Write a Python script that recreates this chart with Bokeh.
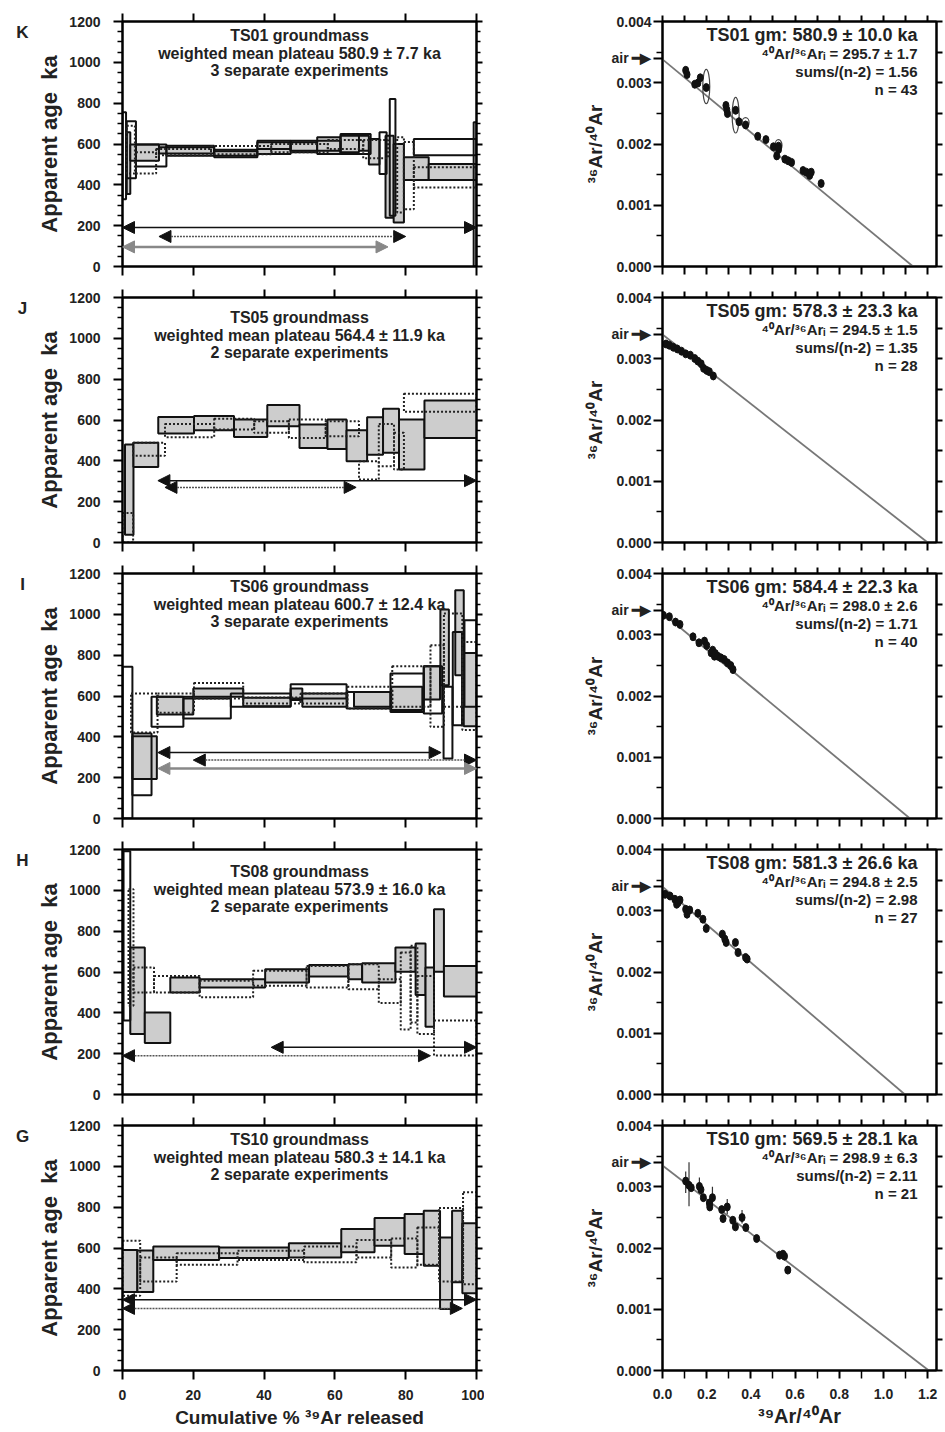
from bokeh.plotting import figure
from bokeh.models import (LinearAxis, FixedTicker, Range1d, Arrow, NormalHead, Label,
                          NumeralTickFormatter, ColumnDataSource)
from bokeh.layouts import column, row
from bokeh.embed import file_html
from bokeh.resources import INLINE

FONT = "Liberation Sans"

# ---------------- text content ----------------
panel_letters = ["K", "J", "I", "H", "G"]
samples = ["TS01", "TS05", "TS06", "TS08", "TS10"]
plateau_ages = ["580.9 ± 7.7", "564.4 ± 11.9", "600.7 ± 12.4", "573.9 ± 16.0", "580.3 ± 14.1"]
n_experiments = [3, 2, 3, 2, 2]
iso_ages = ["580.9 ± 10.0", "578.3 ± 23.3", "584.4 ± 22.3", "581.3 ± 26.6", "569.5 ± 28.1"]
iso_ratios = ["295.7 ± 1.7", "294.5 ± 1.5", "298.0 ± 2.6", "294.8 ± 2.5", "298.9 ± 6.3"]
iso_mswd = ["1.56", "1.35", "1.71", "2.98", "2.11"]
iso_n = [43, 28, 40, 27, 21]
iso_trapped = [295.7, 294.5, 298.0, 294.8, 298.9]
iso_x_intercept = [1.134, 1.200, 1.120, 1.097, 1.205]
air_tick = 0.0034          # ~1 / 295.5 (atmospheric 36Ar/40Ar)
air_label = "air \u2501\u25B6"

# ---------------- age spectra: (cum% start, cum% end, age low, age high) ----------------
K_filled = [(1.2, 2.2, 355, 657), (2.2, 10.3, 518, 598), (10.3, 25.9, 554, 584), (25.9, 38.1, 543, 572),
            (38.1, 47.5, 551, 608), (47.5, 55.0, 559, 608), (55.0, 61.6, 551, 633), (61.6, 66.8, 559, 641),
            (66.8, 69.6, 567, 641), (69.6, 72.6, 500, 625), (74.3, 76.6, 239, 641), (76.6, 79.5, 216, 600),
            (79.5, 86.5, 424, 535), (86.5, 100, 424, 502)]
K_open = [(0, 1.0, 330, 755), (1.2, 3.8, 432, 711), (3.8, 12.4, 490, 597), (12.4, 25.9, 543, 592),
          (25.9, 38.1, 535, 564), (38.1, 47.5, 575, 616), (47.5, 61.6, 567, 616), (61.6, 70.1, 551, 649),
          (72.6, 74.6, 453, 657), (75.5, 77.1, 249, 821), (82.3, 100, 545, 625), (99.2, 100, 0, 706)]
K_dotted = [(1.2, 3.5, 455, 690), (3.8, 9.5, 455, 560), (9.5, 25.0, 545, 575), (25.0, 42.0, 550, 590),
            (42.0, 58.0, 560, 600), (58.0, 68.0, 575, 620), (68.0, 75.0, 530, 620), (77.6, 79.5, 265, 633),
            (79.5, 82.3, 280, 610), (82.3, 100, 387, 486)]
K_arrows = [(0, 100, 191, "solid"), (10.3, 80, 147, "dotted"), (0, 75, 96, "gray")]

J_filled = [(0.7, 3.1, 38, 480), (3.1, 10.1, 370, 488), (10.1, 20.2, 534, 615), (20.2, 31.5, 550, 619),
            (31.5, 40.9, 517, 602), (40.9, 50.0, 570, 673), (50.0, 57.9, 463, 578), (57.9, 63.3, 458, 602),
            (63.3, 69.1, 398, 550), (69.1, 73.6, 430, 614), (73.6, 78.1, 439, 655), (78.1, 85.3, 357, 602),
            (85.3, 100, 512, 696)]
J_open = []
J_dotted = [(0, 3.0, 0, 144), (3.0, 12.0, 425, 488), (12.0, 25.9, 516, 581), (25.9, 37.2, 553, 606),
            (37.2, 47.0, 537, 594), (47.0, 57.4, 512, 602), (57.4, 66.8, 520, 594), (66.8, 72.4, 308, 398),
            (72.4, 76.7, 373, 581), (76.7, 79.5, 357, 537), (79.5, 100, 640, 728)]
J_arrows = [(10.0, 100, 303, "solid"), (12.0, 66.0, 270, "dotted")]

I_filled = [(2.8, 9.7, 193, 403), (9.7, 20.0, 509, 596), (20.0, 34.1, 596, 637), (34.1, 47.5, 550, 591),
            (47.5, 50.8, 580, 637), (50.8, 63.5, 547, 612), (65.4, 75.9, 547, 620), (75.9, 84.7, 531, 645),
            (85.1, 89.7, 583, 746), (89.8, 92.2, 653, 1024), (94.0, 96.4, 702, 1118), (96.4, 100, 452, 811)]
I_open = [(0, 2.8, 0, 743), (2.8, 8.2, 114, 416), (8.2, 17.2, 449, 596), (17.2, 30.6, 490, 588),
          (30.6, 47.5, 547, 612), (47.5, 63.3, 588, 658), (63.3, 75.7, 539, 620), (75.7, 85.1, 522, 710),
          (85.1, 90.3, 514, 746), (90.7, 93.2, 294, 645), (93.3, 95.9, 457, 914), (96.6, 100, 547, 971)]
I_dotted = [(2.4, 9.9, 421, 612), (9.9, 20.2, 518, 612), (20.2, 34.1, 588, 664), (34.1, 50.3, 563, 593),
            (50.3, 63.5, 563, 612), (63.5, 76.2, 539, 645), (76.2, 87.0, 547, 746), (87.0, 90.8, 449, 849),
            (90.8, 96.0, 547, 1004), (96.0, 100, 433, 865)]
I_arrows = [(10.0, 90.0, 323, "solid"), (20.0, 100, 286, "dotted"), (10.0, 100, 245, "gray")]

H_filled = [(2.2, 6.3, 296, 720), (6.3, 13.5, 252, 402), (13.5, 21.8, 500, 573),
            (21.8, 40.3, 524, 565), (40.3, 52.7, 549, 614), (52.7, 63.8, 578, 634), (63.8, 67.7, 565, 638),
            (67.7, 77.1, 549, 643), (77.1, 82.8, 601, 720), (82.8, 85.6, 487, 739), (85.6, 88.0, 332, 622),
            (88.0, 90.8, 601, 907), (90.8, 100, 480, 630)]
H_open = [(0.3, 2.2, 362, 1192)]
H_dotted = [(1.7, 3.1, 435, 1005), (3.1, 8.9, 500, 622), (8.9, 21.8, 500, 581), (21.8, 36.9, 476, 557),
            (36.9, 52.0, 533, 606), (52.0, 63.8, 524, 630), (63.8, 72.4, 516, 638), (72.4, 78.6, 448, 565),
            (78.6, 81.4, 318, 695), (81.4, 83.3, 353, 728), (83.3, 88.0, 296, 581), (88.0, 100, 191, 362)]
H_arrows = [(42.0, 100, 231, "solid"), (0, 87.0, 190, "dotted")]

G_filled = [(0, 4.2, 385, 590), (4.2, 8.7, 385, 588), (8.7, 27.3, 541, 607), (27.3, 47.0, 551, 603),
            (47.0, 61.8, 554, 623), (61.8, 71.2, 579, 693), (71.2, 79.7, 611, 747), (79.7, 85.1, 571, 767),
            (85.1, 89.7, 513, 783), (89.7, 93.1, 301, 652), (93.1, 96.0, 432, 783), (96.0, 100, 378, 721)]
G_open = []
G_dotted = [(0, 5.0, 366, 636), (5.0, 15.3, 436, 554), (15.3, 32.5, 518, 574), (32.5, 51.3, 541, 587),
            (51.3, 66.1, 530, 607), (66.1, 75.9, 554, 639), (75.9, 83.3, 505, 647), (83.3, 89.4, 518, 701),
            (89.4, 96.2, 436, 796), (96.2, 100, 423, 873)]
G_arrows = [(0, 100, 347, "solid"), (0, 96.0, 304, "dotted")]

# ---------------- isochron points (39Ar/40Ar, 36Ar/40Ar) ----------------
K_iso_x = [0.105, 0.111, 0.146, 0.160, 0.171, 0.198, 0.287, 0.291, 0.294, 0.331, 0.346, 0.376, 0.431, 0.468,
           0.502, 0.517, 0.525, 0.525, 0.554, 0.569, 0.584, 0.636, 0.651, 0.666, 0.673, 0.718]
K_iso_y = [0.003203, 0.003134, 0.002975, 0.002996, 0.003081, 0.002922, 0.00263, 0.00256, 0.002497, 0.00255,
           0.002364, 0.002311, 0.002125, 0.002072, 0.001955, 0.001806, 0.001965, 0.00191, 0.001753, 0.001726,
           0.0017, 0.001567, 0.00154, 0.001487, 0.00154, 0.001355]
K_ell_x = [0.198, 0.331, 0.376, 0.525]
K_ell_y = [0.00294, 0.00247, 0.00235, 0.00198]
K_ell_h = [0.00056, 0.00058, 0.00016, 0.00018]

J_iso_x = [0.016, 0.031, 0.049, 0.067, 0.086, 0.105, 0.126, 0.146, 0.160, 0.175, 0.186, 0.200, 0.212, 0.230]
J_iso_y = [0.003241, 0.00322, 0.003187, 0.00316, 0.003123, 0.00308, 0.003058, 0.003004, 0.002961, 0.002918,
           0.002843, 0.00281, 0.002789, 0.002719]

I_iso_x = [0.004, 0.031, 0.059, 0.079, 0.138, 0.165, 0.19, 0.2, 0.22, 0.227, 0.235, 0.239, 0.25, 0.264,
           0.279, 0.294, 0.309, 0.319]
I_iso_y = [0.003317, 0.003295, 0.003207, 0.003169, 0.002967, 0.002869, 0.002896, 0.002825, 0.002705, 0.002748,
           0.00265, 0.002694, 0.00265, 0.002623, 0.002596, 0.002541, 0.002497, 0.002431]

H_iso_x = [0.012, 0.034, 0.056, 0.064, 0.071, 0.079, 0.105, 0.111, 0.123, 0.16, 0.183, 0.198, 0.271, 0.282,
           0.288, 0.33, 0.342, 0.376, 0.383]
H_iso_y = [0.003268, 0.003241, 0.003187, 0.003106, 0.003133, 0.003176, 0.003024, 0.002943, 0.003013, 0.002959,
           0.002862, 0.00271, 0.002618, 0.002537, 0.002482, 0.002482, 0.00232, 0.002238, 0.002211]

G_iso_x = [0.105, 0.12, 0.13, 0.167, 0.174, 0.185, 0.212, 0.214, 0.226, 0.268, 0.274, 0.293, 0.318, 0.33,
           0.36, 0.377, 0.426, 0.53, 0.545, 0.552, 0.567]
G_iso_y = [0.003093, 0.003023, 0.002985, 0.003006, 0.002952, 0.002822, 0.002735, 0.00267, 0.002822, 0.002627,
           0.00248, 0.00267, 0.002453, 0.002345, 0.002497, 0.002334, 0.002155, 0.001883, 0.001899, 0.001867,
           0.001639]
G_err_x = [0.105, 0.12, 0.167, 0.226, 0.293, 0.36]
G_err_lo = [0.00290, 0.00268, 0.00290, 0.00270, 0.00255, 0.00240]
G_err_hi = [0.00325, 0.00340, 0.00315, 0.00300, 0.00280, 0.00262]

spectra = [(K_filled, K_open, K_dotted, K_arrows), (J_filled, J_open, J_dotted, J_arrows),
           (I_filled, I_open, I_dotted, I_arrows), (H_filled, H_open, H_dotted, H_arrows),
           (G_filled, G_open, G_dotted, G_arrows)]
isochrons = [(K_iso_x, K_iso_y), (J_iso_x, J_iso_y), (I_iso_x, I_iso_y), (H_iso_x, H_iso_y), (G_iso_x, G_iso_y)]

title_offsets = [14, 20, 13, 22, 14]   # px below frame top of first title line

FRAME_H = 245
TOP_FIRST = 21
TOP = 13
BOTTOM = 18
BOTTOM_LAST = 60
LETTER_W = 30
AGE_W = 454
ISO_W = 460
ISO_XMAX = 1.24


def set_axis(ax, ticks, minor, out, minor_out, labels=False, fmt=None, size="14px", standoff=6):
    ax.ticker = FixedTicker(ticks=ticks, minor_ticks=minor)
    ax.axis_line_color = "black"
    ax.axis_line_width = 2
    ax.major_tick_line_color = "black"
    ax.major_tick_line_width = 2
    ax.minor_tick_line_color = "black"
    ax.minor_tick_line_width = 1.5
    ax.major_tick_in = 0
    ax.major_tick_out = out
    ax.minor_tick_in = 0
    ax.minor_tick_out = minor_out
    if labels:
        ax.major_label_text_font = FONT
        ax.major_label_text_font_style = "bold"
        ax.major_label_text_font_size = size
        ax.major_label_text_color = "#222222"
        ax.major_label_standoff = standoff
        if fmt:
            ax.formatter = NumeralTickFormatter(format=fmt)
    else:
        ax.major_label_text_font_size = "0px"
        ax.major_label_text_color = None
        ax.major_label_standoff = 0


def style_label(ax, text, size, standoff):
    ax.axis_label = text
    ax.axis_label_text_font = FONT
    ax.axis_label_text_font_style = "bold"
    ax.axis_label_text_font_size = size
    ax.axis_label_text_color = "#222222"
    ax.axis_label_standoff = standoff


def quad_source(steps):
    return ColumnDataSource(dict(left=[s[0] for s in steps], right=[s[1] for s in steps],
                                 bottom=[s[2] for s in steps], top=[s[3] for s in steps]))


def dims(i):
    top = TOP_FIRST if i == 0 else TOP
    bottom = BOTTOM_LAST if i == 4 else BOTTOM
    return top, bottom, top + FRAME_H + bottom


def letter_fig(i):
    # narrow figure whose frame is aligned with the neighbouring plot frames
    top, bottom, h = dims(i)
    p = figure(width=LETTER_W, height=h, x_range=Range1d(0, LETTER_W), y_range=Range1d(0, 1200),
               output_backend="svg", toolbar_location=None, min_border=0, title=None,
               x_axis_type=None, y_axis_type=None)
    p.min_border_left = 0
    p.min_border_right = 0
    p.min_border_top = top
    p.min_border_bottom = bottom
    p.grid.visible = False
    p.outline_line_color = None
    p.background_fill_color = "white"
    p.border_fill_color = "white"
    px_per = FRAME_H / 1200.0
    p.add_layout(Label(x=22, y=1200 - 11 / px_per, text=panel_letters[i], text_align="center",
                       text_baseline="middle", text_font=FONT, text_font_style="bold",
                       text_font_size="17px", text_color="#222222"))
    return p


def age_fig(i):
    filled, opened, dotted, arrows = spectra[i]
    last = (i == 4)
    top, bottom, h = dims(i)
    p = figure(width=AGE_W, height=h, x_range=Range1d(0, 100), y_range=Range1d(0, 1200),
               output_backend="svg", toolbar_location=None,
               min_border_left=92, min_border_right=8, min_border_top=top, min_border_bottom=bottom)
    p.grid.visible = False
    p.outline_line_color = "black"
    p.outline_line_width = 2
    p.background_fill_color = "white"
    p.border_fill_color = "white"
    p.add_layout(LinearAxis(), "above")
    p.add_layout(LinearAxis(), "right")
    yt = list(range(0, 1201, 200))
    ym = [v for v in range(50, 1200, 50) if v % 200]
    xt = list(range(0, 101, 20))
    set_axis(p.left[0], yt, ym, 9, 5, labels=True, size="14px", standoff=13)
    style_label(p.left[0], "Apparent age\u00a0 ka", "22px", 4)
    set_axis(p.right[0], yt, ym, 6, 4)
    set_axis(p.above[0], xt, [], 8, 0)
    if last:
        set_axis(p.below[0], xt, [], 9, 0, labels=True, size="14px", standoff=10)
        style_label(p.below[0], "Cumulative % \u00b3\u2079Ar released", "19px", 4)
    else:
        set_axis(p.below[0], xt, [], 9, 0)

    if filled:
        p.quad(source=quad_source(filled), left="left", right="right", bottom="bottom", top="top",
               fill_color="#cdcdcd", line_color="#111111", line_width=2)
    if opened:
        p.quad(source=quad_source(opened), left="left", right="right", bottom="bottom", top="top",
               fill_color=None, line_color="#111111", line_width=2)
    if dotted:
        p.quad(source=quad_source(dotted), left="left", right="right", bottom="bottom", top="top",
               fill_color=None, line_color="#222222", line_width=2, line_dash="2 2")

    for (x0, x1, y, style) in arrows:
        if style == "gray":
            col, lw, dash, hc = "#888888", 2.5, "solid", "#888888"
        elif style == "dotted":
            col, lw, dash, hc = "#555555", 1.5, "2 1", "#111111"
        else:
            col, lw, dash, hc = "#111111", 1.5, "solid", "#111111"
        p.add_layout(Arrow(x_start=x0, x_end=x1, y_start=y, y_end=y, line_color=col, line_width=lw,
                           line_dash=dash,
                           start=NormalHead(size=12, fill_color=hc, line_color=hc),
                           end=NormalHead(size=12, fill_color=hc, line_color=hc)))

    px_per = FRAME_H / 1200.0
    lines = [f"{samples[i]} groundmass",
             f"weighted mean plateau {plateau_ages[i]} ka",
             f"{n_experiments[i]} separate experiments"]
    for k, t in enumerate(lines):
        yy = 1200 - (title_offsets[i] + 17.5 * k) / px_per
        p.add_layout(Label(x=50, y=yy, text=t, text_align="center", text_baseline="middle",
                           text_font=FONT, text_font_style="bold", text_font_size="16px",
                           text_color="#222222"))
    return p


def iso_fig(i):
    xs, ys = isochrons[i]
    last = (i == 4)
    top, bottom, h = dims(i)
    p = figure(width=ISO_W, height=h, x_range=Range1d(0, ISO_XMAX), y_range=Range1d(0, 0.004),
               output_backend="svg", toolbar_location=None,
               min_border_left=178, min_border_right=8, min_border_top=top, min_border_bottom=bottom)
    p.grid.visible = False
    p.outline_line_color = "black"
    p.outline_line_width = 2
    p.background_fill_color = "white"
    p.border_fill_color = "white"
    p.add_layout(LinearAxis(), "above")
    p.add_layout(LinearAxis(), "right")
    yt = [0, 0.001, 0.002, 0.003, 0.004]
    ym = [0.0005, 0.0015, 0.0025, 0.0035]
    xt = [0, 0.2, 0.4, 0.6, 0.8, 1.0, 1.2]
    xm = [0.1, 0.3, 0.5, 0.7, 0.9, 1.1]
    set_axis(p.left[0], sorted(yt + [air_tick]), ym, 9, 6, labels=True, fmt="0.000", size="14px", standoff=2)
    p.left[0].major_label_overrides = {air_tick: air_label}
    style_label(p.left[0], "\u00b3\u2076Ar/\u2074\u2070Ar", "19px", 2)
    set_axis(p.right[0], sorted(yt + ym), [], 6, 0)
    set_axis(p.above[0], sorted(xt + xm), [], 6, 0)
    if last:
        set_axis(p.below[0], xt, xm, 8, 8, labels=True, fmt="0.0", size="14px", standoff=10)
        style_label(p.below[0], "\u00b3\u2079Ar/\u2074\u2070Ar", "20px", 3)
    else:
        set_axis(p.below[0], sorted(xt + xm), [], 8, 0)

    y0 = 1.0 / iso_trapped[i]
    p.line([0, iso_x_intercept[i]], [y0, 0], line_color="#777777", line_width=1.8)

    if i == 4:
        p.segment(x0=G_err_x, x1=G_err_x, y0=G_err_lo, y1=G_err_hi, line_color="#333333", line_width=1.2)
    if i == 0:
        p.ellipse(x=K_ell_x, y=K_ell_y, width=7, height=K_ell_h, width_units="screen",
                  fill_color=None, line_color="#444444", line_width=1.2)
    p.ellipse(x=xs, y=ys, width=6, height=8, width_units="screen", height_units="screen",
              fill_color="#111111", line_color="#111111")

    px_per = FRAME_H / 0.004
    frame_w = ISO_W - 178 - 8
    xr = ISO_XMAX - 19 * ISO_XMAX / frame_w
    texts = [(f"{samples[i]} gm: {iso_ages[i]} ka", "18px", 13),
             (f"\u2074\u2070Ar/\u00b3\u2076Ar\u1d62 = {iso_ratios[i]}", "15px", 32),
             (f"sums/(n-2) = {iso_mswd[i]}", "15px", 50),
             (f"n = {iso_n[i]}", "15px", 68)]
    for t, fs, off in texts:
        p.add_layout(Label(x=xr, y=0.004 - off / px_per, text=t, text_align="right", text_baseline="middle",
                           text_font=FONT, text_font_style="bold", text_font_size=fs, text_color="#222222"))
    return p


rows = [row(letter_fig(i), age_fig(i), iso_fig(i)) for i in range(5)]
layout = column(*rows)
open("out.html", "w").write(file_html(layout, INLINE))
